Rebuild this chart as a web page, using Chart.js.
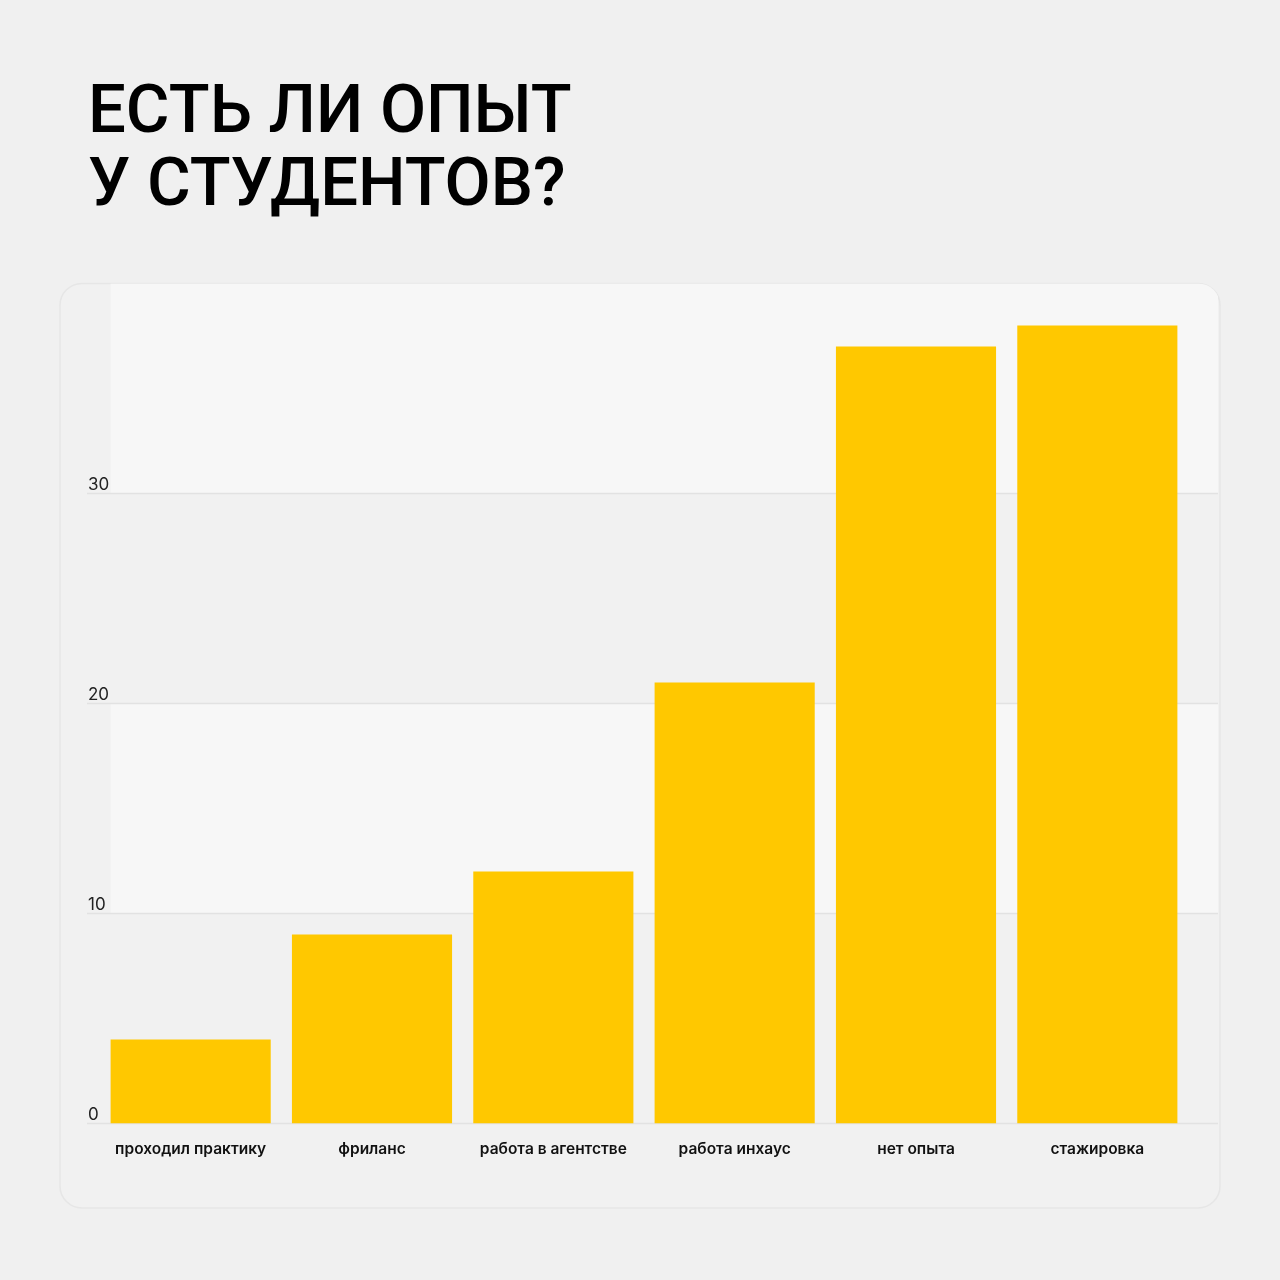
<!DOCTYPE html>
<html>
<head>
<meta charset="utf-8">
<script src="https://cdn.jsdelivr.net/npm/chart.js@4"></script>
<style>
  html, body { margin: 0; padding: 0; background: #f0f0f0; }
  canvas { display: block; }
</style>
</head>
<body>
<canvas id="c" width="1280" height="1280"></canvas>
<script>
const titleLines = ['ЕСТЬ ЛИ ОПЫТ', 'У СТУДЕНТОВ?'];
const categories = ['проходил практику', 'фриланс', 'работа в агентстве', 'работа инхаус', 'нет опыта', 'стажировка'];
const values = [4, 9, 12, 21, 37, 38];
const yTicks = [0, 10, 20, 30];
const yMax = 40;

function cardPath(ctx, top) {
  ctx.beginPath();
  ctx.roundRect(60, top, 1160, 1208 - top, 22);
}

const bgPlugin = {
  id: 'bg',
  beforeDraw(chart) {
    const ctx = chart.ctx;
    ctx.save();
    ctx.fillStyle = '#f0f0f0';
    ctx.fillRect(0, 0, chart.width, chart.height);
    cardPath(ctx, chart.chartArea.top);
    ctx.fillStyle = '#f1f1f1';
    ctx.fill();
    ctx.strokeStyle = '#e6e6e6';
    ctx.lineWidth = 1.5;
    ctx.stroke();
    ctx.restore();
  },
  beforeDatasetsDraw(chart) {
    const ctx = chart.ctx;
    const ys = chart.scales.y;
    const meta = chart.getDatasetMeta(0);
    const bandLeft = meta.data[0].x - meta.data[0].width / 2;
    const bandRight = 1218;
    ctx.save();
    cardPath(ctx, chart.chartArea.top);
    ctx.clip();
    for (let v = 0; v < yMax; v += 10) {
      if ((v / 10) % 2 === 1) {
        const top = ys.getPixelForValue(v + 10);
        const bot = ys.getPixelForValue(v);
        ctx.fillStyle = '#f7f7f7';
        ctx.fillRect(bandLeft, top, bandRight - bandLeft, bot - top);
      }
    }
    ctx.strokeStyle = '#e2e2e2';
    ctx.lineWidth = 1.5;
    yTicks.forEach(v => {
      const py = Math.round(ys.getPixelForValue(v)) + 0.5;
      ctx.beginPath();
      ctx.moveTo(87, py);
      ctx.lineTo(bandRight, py);
      ctx.stroke();
    });
    ctx.restore();
  }
};

new Chart(document.getElementById('c'), {
  type: 'bar',
  data: {
    labels: categories,
    datasets: [{
      data: values,
      backgroundColor: '#ffc800',
      borderWidth: 0,
      categoryPercentage: 1,
      barPercentage: 0.883
    }]
  },
  options: {
    responsive: false,
    devicePixelRatio: 1,
    animation: false,
    layout: { padding: { left: 88, right: 92, top: 0, bottom: 104 } },
    plugins: {
      legend: { display: false },
      tooltip: { enabled: false },
      title: {
        display: true,
        text: titleLines,
        align: 'start',
        color: '#000',
        font: { family: 'Roboto', size: 67, weight: '500', lineHeight: 1.1 },
        padding: { top: 78, bottom: 58 }
      }
    },
    scales: {
      x: {
        grid: { display: false, drawTicks: false },
        border: { display: false },
        ticks: {
          color: '#111',
          padding: 17,
          maxRotation: 0,
          autoSkip: false,
          font: { family: 'Inter', size: 15.5, weight: '600' }
        }
      },
      y: {
        min: 0,
        max: yMax,
        grid: { display: false, drawTicks: false },
        border: { display: false },
        afterFit(scale) { scale.width = 12; },
        afterBuildTicks(scale) { scale.ticks = yTicks.map(v => ({ value: v })); },
        ticks: {
          color: '#222',
          mirror: true,
          crossAlign: 'near',
          padding: -12,
          labelOffset: -9,
          font: { family: 'Inter', size: 17, weight: '400' }
        }
      }
    }
  },
  plugins: [bgPlugin]
});
</script>
</body>
</html>
